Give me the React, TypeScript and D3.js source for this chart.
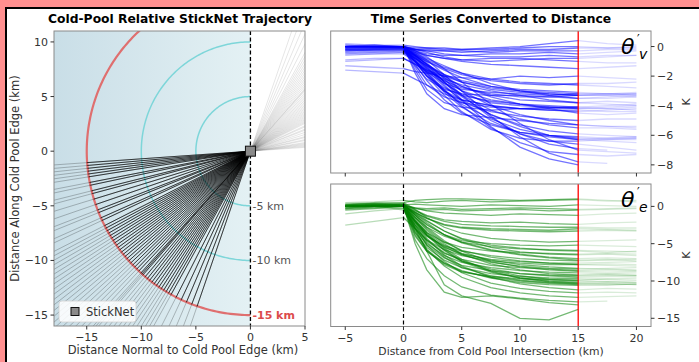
import React from 'react'
import * as d3 from 'd3'

// trajectory headings, degrees below the -x axis (direction of travel after the intersection)
const trackAngles = [4, 5, 6, 7, 8, 9, 11, 12, 14, 15, 17, 19, 21, 22, 24, 25, 27, 28, 29, 30, 31, 32, 33, 34, 35, 36, 37, 38, 39, 40, 41, 42, 43, 44, 45, 46, 47, 48, 48.5, 49, 50, 51, 52, 53, 54, 55, 56, 57, 58, 59, 60, 61, 63, 65, 67, 69, 71]

const ringRadii = [5, 10]
const leftXTicks = [-15, -10, -5, 0, 5]
const leftYTicks = [-15, -10, -5, 0, 5, 10]

// distance (km) at which the series below are sampled
const distKm = [-5, -2.5, 0, 1, 2, 3.5, 5, 7.5, 10, 12.5, 15, 17.5, 20]

const thetaV: (number | null)[][] = [
  [0.1, 0.1, 0, -0.1, -0.1, -0.2, -0.2, -0.1, 0, 0.2, 0.4, 0.2, 0.1],
  [0, 0, -0.1, -0.2, -0.3, -0.3, -0.4, -0.3, -0.2, -0.2, -0.1, -0.1, 0],
  [-0.2, -0.1, -0.1, -0.3, -0.5, -0.6, -0.6, -0.5, -0.5, -0.4, -0.5, -0.4, -0.3],
  [0, 0.1, 0, -0.2, -0.4, -0.7, -0.9, -1, -0.9, -0.8, -0.8, -0.7, -0.6],
  [-0.3, -0.2, -0.2, -0.4, -0.6, -0.8, -1.0, -1.2, -1.3, -1.4, -1.5, -1.4, -1.3],
  [-1.3, -1.4, -1.5, -1.7, -1.8, -2.0, -2.1, -2.2, -2.0, -2.1, -2.0, -2.1, -2.2],
  [0, 0, -0.1, -0.5, -0.9, -1.4, -1.8, -2.2, -2.4, -2.5, -2.6, -2.7, -2.8],
  [-0.2, -0.3, -0.3, -0.8, -1.3, -1.9, -2.3, -2.7, -2.9, -3.0, -3.1, -3.2, -3.2],
  [0, 0, 0, -0.6, -1.2, -1.9, -2.4, -2.9, -3.1, -3.2, -3.3, -3.3, -3.4],
  [-0.5, -0.4, -0.4, -1.0, -1.6, -2.3, -2.8, -3.2, -3.4, -3.4, -3.5, -3.4, -3.3],
  [0.1, 0, 0, -0.9, -1.7, -2.5, -2.9, -3.1, -3.2, -3.3, -3.2, -3.2, -3.1],
  [-1.0, -0.9, -0.8, -1.2, -1.7, -2.2, -2.6, -3.0, -3.3, -3.6, -3.8, -3.9, -4.0],
  [0, 0, 0, -1.1, -2.0, -2.8, -3.3, -3.7, -3.9, -4.0, -4.1, -4.0, -3.9],
  [-0.3, -0.2, -0.2, -0.8, -1.5, -2.3, -3.0, -3.6, -3.9, -4.1, -4.2, -4.2, -4.3],
  [0, 0, 0, -1.4, -2.6, -3.4, -3.8, -4.1, -4.2, -4.3, -4.3, -4.4, -4.4],
  [-0.1, -0.1, -0.1, -0.6, -1.2, -2.0, -2.7, -3.4, -3.9, -4.2, -4.5, -4.6, -4.5],
  [-1.6, -1.7, -1.8, -2.2, -2.6, -3.2, -3.6, -4.0, -4.2, -4.3, -4.4, -4.3, -4.2],
  [0, 0, 0, -1.6, -2.9, -3.8, -4.1, -4.3, -4.2, -4.1, -4.2, -4.1, -4.0],
  [-0.2, -0.2, -0.1, -0.7, -1.4, -2.4, -3.3, -4.3, -4.9, -5.3, -5.5, -5.5, -5.6],
  [0, 0, 0, -0.8, -1.6, -2.7, -3.6, -4.6, -5.3, -5.7, -5.9, -6.0, -6.1],
  [-0.4, -0.4, -0.3, -1.0, -1.8, -3.0, -3.9, -4.9, -5.6, -6.0, -6.2, -6.3, -6.2],
  [0, 0.1, 0, -0.6, -1.3, -2.4, -3.4, -4.6, -5.4, -6.0, -6.3, -6.4, -6.5],
  [-0.1, 0, 0, -1.2, -2.3, -3.6, -4.5, -5.3, -5.8, -6.1, -6.3, -6.2, -6.1],
  [-0.3, -0.2, -0.2, -0.7, -1.4, -2.6, -3.7, -5.0, -5.9, -6.4, -6.6, -6.8, -7.0],
  [0, 0, 0, -0.5, -1.1, -2.2, -3.3, -4.8, -5.9, -6.6, -6.9, -7.0, null],
  [-0.6, -0.5, -0.5, -1.0, -1.7, -2.9, -4.0, -5.5, -6.5, -7.1, -7.3, -7.4, -7.3],
  [0, 0, 0, -0.4, -0.9, -1.9, -3.0, -4.7, -6.1, -7.2, -7.8, -7.9, null],
  [-0.2, -0.1, -0.1, -0.6, -1.2, -2.4, -3.6, -5.4, -6.8, -7.6, -8.0, null, null],
  [0.2, 0.1, 0.1, 0, -0.1, -0.1, -0.2, -0.2, -0.1, 0, 0, -0.1, -0.1],
  [-0.1, -0.1, 0, -0.2, -0.3, -0.5, -0.6, -0.7, -0.7, -0.6, -0.7, -0.6, -0.6],
  [0, 0, 0, -0.3, -0.6, -0.8, -0.9, -0.8, -0.8, -0.9, -1.0, -1.1, -1.1],
  [-0.2, -0.2, -0.2, -1.0, -2.0, -3.3, -4.4, -5.6, -6.2, -6.4, -6.4, -6.3, -6.3],
  [0, 0, 0, -1.8, -3.2, -4.2, -4.6, -4.8, -5.0, -5.2, -5.3, -5.4, -5.4],
  [-0.9, -0.8, -0.8, -1.2, -1.6, -2.0, -2.4, -2.8, -3.0, -3.1, -3.2, -3.2, -3.3],
  [0, -0.1, -0.1, -0.5, -1.0, -1.6, -2.1, -2.7, -3.0, -3.2, -3.3, -3.2, -3.2],
  [-0.4, -0.3, -0.3, -0.6, -1.0, -1.5, -1.9, -2.3, -2.5, -2.6, -2.5, -2.5, -2.4],
  [0.1, 0, 0, -0.2, -0.2, -0.3, -0.3, -0.4, -0.3, -0.3, -0.3, -0.2, -0.2],
  [-0.3, -0.3, -0.2, -1.3, -2.2, -2.9, -3.2, -3.3, -3.3, -3.4, -3.3, -3.3, -3.2],
  [0, 0, 0, -0.7, -1.5, -2.5, -3.2, -3.8, -4.0, -4.1, -4.1, -4.2, -4.1],
  [-0.1, -0.1, 0, -0.9, -1.8, -3.0, -3.8, -4.4, -4.7, -4.9, -5.0, -4.9, -4.9],
  [0, 0, 0, -0.6, -1.2, -2.1, -3.0, -4.0, -4.6, -5.0, -5.3, -5.4, -5.5],
  [-0.2, -0.2, -0.1, -1.0, -1.9, -3.1, -4.1, -5.2, -5.8, -6.0, -6.1, -6.2, -6.2],
  [0, 0, 0, -0.3, -0.7, -1.5, -2.4, -3.9, -5.2, -6.3, -7.0, -7.1, -7.2],
  [-0.5, -0.5, -0.4, -0.8, -1.3, -2.1, -2.7, -3.3, -3.6, -3.7, -3.8, -3.7, -3.8],
  [0, 0.1, 0, -1.0, -2.0, -3.0, -3.6, -4.0, -4.2, -4.2, -4.1, null, null],
  [-0.1, 0, 0, -0.4, -0.8, -1.3, -1.8, -2.5, -3.0, -3.3, -3.5, -3.5, -3.4],
]

const thetaE: (number | null)[][] = [
  [0.3, 0.5, 0.5, 0.8, 0.9, 1.0, 1.0, 0.9, 0.8, 0.9, 1.0, 0.8, 0.6],
  [0, 0.2, 0.2, 0.3, 0.2, 0.1, 0.0, 0.2, 0.1, 0.0, 0.2, 0.1, 0],
  [-0.2, 0, 0, -0.3, -0.5, -0.4, -0.6, -0.5, -0.4, -0.6, -0.5, -0.4, -0.3],
  [0.1, 0.3, 0.2, -0.2, -0.6, -0.9, -1.0, -1.2, -1.0, -1.1, -1.2, -1.0, -0.9],
  [0, 0.1, 0.3, -0.5, -1.2, -1.8, -2.0, -2.2, -2.1, -2.3, -2.4, -2.2, -2.1],
  [-0.5, -0.3, 0, -0.8, -1.6, -2.4, -2.8, -3.0, -3.1, -3.2, -3.0, -3.1, -3.2],
  [0.2, 0.4, 0.5, -0.4, -1.5, -2.8, -3.6, -4.3, -4.6, -4.8, -4.7, -4.6, -4.5],
  [0, 0, 0, -1.5, -2.8, -4.0, -4.8, -5.4, -5.7, -5.8, -5.9, -6.0, -6.1],
  [-0.3, -0.2, 0.1, -2.0, -3.5, -4.8, -5.5, -6.0, -6.2, -6.3, -6.4, -6.3, -6.4],
  [0.1, 0.2, 0.3, -1.2, -2.5, -3.8, -4.8, -5.8, -6.4, -6.8, -7.0, -6.9, -7.0],
  [0, 0, -0.3, -2.5, -4.0, -5.3, -6.0, -6.6, -7.0, -7.2, -7.3, -7.2, -7.1],
  [-2.5, -2.0, -1.5, -3.0, -4.5, -5.8, -6.6, -7.3, -7.6, -7.8, -7.8, -7.9, -8.0],
  [0.2, 0.3, 0.2, -2.0, -3.8, -5.4, -6.5, -7.5, -8.0, -8.3, -8.4, -8.3, -8.2],
  [0, 0.1, 0, -3.0, -5.0, -6.6, -7.5, -8.2, -8.6, -8.8, -8.9, -9.0, -8.9],
  [-0.4, -0.2, 0, -1.5, -3.2, -5.0, -6.4, -7.7, -8.5, -9.0, -9.2, -9.1, -9.2],
  [0.1, 0.2, 0.1, -2.5, -4.5, -6.2, -7.3, -8.4, -9.0, -9.3, -9.5, -9.4, -9.3],
  [0, 0, 0, -3.5, -5.5, -7.2, -8.2, -9.0, -9.4, -9.6, -9.7, -9.8, -9.9],
  [-1.0, -0.6, -0.3, -2.0, -3.8, -5.8, -7.3, -8.6, -9.3, -9.8, -10.0, -10.1, -10.2],
  [0.3, 0.4, 0.3, -1.8, -3.6, -5.6, -7.1, -8.7, -9.6, -10.1, -10.3, -10.4, -10.5],
  [0, 0.1, 0, -4.0, -6.0, -7.6, -8.6, -9.6, -10.2, -10.5, -10.6, -10.5, -10.4],
  [-0.2, 0, 0.2, -2.2, -4.3, -6.5, -8.0, -9.5, -10.4, -10.9, -11.2, -11.0, -11.1],
  [0, 0, 0, -2.8, -5.2, -7.4, -8.9, -10.3, -11.0, -11.4, -11.6, -11.5, -11.6],
  [0.1, 0.2, 0.1, -3.2, -5.8, -8.0, -9.5, -10.9, -11.6, -12.0, -12.2, -12.1, -12.0],
  [0, 0, 0, -4.5, -7.0, -9.3, -10.8, -11.9, -12.3, -12.6, -12.8, -12.7, null],
  [-0.3, -0.1, 0, -5.0, -8.5, -11.5, -12.2, -12.0, -12.4, -12.9, -13.2, null, null],
  [0, 0.1, -0.5, -3.0, -6.0, -10.5, -12.0, -13.0, -15.0, -15.2, -13.8, null, null],
  [0.5, 0.6, 0.8, 0.6, 0.5, 0.7, 0.8, 0.6, 0.7, 0.8, 0.9, 0.7, 0.8],
  [0, 0.1, 0, -1.0, -2.2, -3.8, -4.9, -5.9, -6.5, -6.9, -7.2, -7.1, -7.3],
  [-0.1, 0, 0.1, -2.8, -4.6, -6.3, -7.1, -7.9, -8.2, -8.4, -8.6, -8.5, -8.6],
  [0.2, 0.3, 0.2, -1.0, -2.0, -3.3, -4.3, -5.2, -5.6, -5.9, -6.0, -6.2, -6.0],
  [0, 0, 0, -0.8, -1.6, -2.5, -2.9, -3.2, -3.3, -3.4, -3.3, -3.2, -3.3],
  [-0.5, -0.3, -0.2, -3.8, -6.0, -7.8, -8.8, -9.4, -9.7, -9.8, -9.9, -9.7, -9.6],
  [0.1, 0.2, 0.3, -1.2, -2.8, -4.6, -6.0, -7.4, -8.1, -8.5, -8.7, -8.8, -8.7],
  [0, 0, 0, -2.2, -3.9, -5.5, -6.4, -7.1, -7.4, -7.6, -7.6, -7.5, -7.4],
  [0, 0.2, 0.1, -0.2, -0.3, -0.2, -0.4, -0.3, -0.2, -0.3, -0.4, -0.3, -0.2],
  [0.2, 0.4, 0.4, -1.5, -3.0, -4.8, -5.9, -6.8, -7.3, -7.6, -7.8, -7.7, -7.8],
  [0, 0, 0, -3.0, -5.2, -6.9, -7.9, -8.6, -9.0, -9.2, -9.3, -9.2, -9.3],
  [-0.2, 0, 0.1, -2.5, -4.8, -6.8, -8.2, -9.3, -9.9, -10.2, -10.4, -10.3, -10.5],
  [0.1, 0.2, 0.2, -1.8, -3.5, -5.2, -6.3, -7.2, -7.8, -8.1, -8.3, -8.4, -8.5],
  [0, 0.1, 0, -0.6, -1.3, -2.0, -2.4, -2.6, -2.7, -2.8, -2.8, -2.9, -2.9],
  [-0.3, -0.1, 0, -3.5, -5.8, -7.6, -8.7, -9.5, -10.0, -10.3, -10.5, -10.6, -10.4],
  [0.3, 0.4, 0.3, -0.8, -1.9, -3.3, -4.4, -5.5, -6.1, -6.4, -6.5, -6.4, -6.6],
  [0, 0, 0, -2.0, -3.9, -5.9, -7.4, -8.8, -9.6, -10.0, -10.2, -10.1, -10.2],
  [-0.1, 0, 0.1, -1.2, -2.4, -3.8, -4.6, -5.0, -5.2, -5.3, -5.2, -5.3, -5.4],
]

const distTicks = [-5, 0, 5, 10, 15, 20]
const vTicks = [0, -2, -4, -6, -8]
const eTicks = [0, -5, -10, -15]

const FONT = 'DejaVu Sans, sans-serif'
const SPINE = '#8a8a8a'
const TXT = '#333'

// left panel scales
const lx = d3.scaleLinear().domain([-18, 5]).range([54, 305])
const ly = d3.scaleLinear().domain([-16, 11]).range([326, 31])
// right panels
const rx = d3.scaleLinear().domain([-6.25, 21.25]).range([330.7, 651])
const ryV = d3.scaleLinear().domain([-8.55, 1.05]).range([173, 31])
const ryE = d3.scaleLinear().domain([-16.1, 3.0]).range([326.5, 184])

const fmt = (v: number) => d3.format('d')(v)

function ring(r: number, a0: number, a1: number) {
  const pts = d3.range(a0, a1 + 0.001, 1).map(a => [r * Math.cos((a * Math.PI) / 180), r * Math.sin((a * Math.PI) / 180)])
  return d3.line<number[]>().x(d => lx(d[0])).y(d => ly(d[1]))(pts) || ''
}

function LeftPanel() {
  const [x0, x1] = lx.range()
  const [y1, y0] = ly.range()
  const far = 40
  return (
    <g>
      <defs>
        <linearGradient id="bg" gradientUnits="userSpaceOnUse" x1={lx(-18)} x2={lx(0)} y1={0} y2={0}>
          <stop offset="0" stopColor="#c9dee7" />
          <stop offset="1" stopColor="#e4f1f4" />
        </linearGradient>
        <clipPath id="clipL">
          <rect x={x0} y={y0} width={x1 - x0} height={y1 - y0} />
        </clipPath>
      </defs>
      <rect x={x0} y={y0} width={lx(0) - x0} height={y1 - y0} fill="url(#bg)" />
      <g clipPath="url(#clipL)">
        {ringRadii.map(r => (
          <path key={r} d={ring(r, 90, 270)} fill="none" stroke="#7ed6d9" strokeWidth={1.5} />
        ))}
        <path d={ring(15, 90, 270)} fill="none" stroke="#df6f6f" strokeWidth={2.2} />
        {trackAngles.map((a, i) => {
          const c = Math.cos((a * Math.PI) / 180)
          const s = Math.sin((a * Math.PI) / 180)
          return (
            <g key={i}>
              <line x1={lx(0)} y1={ly(0)} x2={lx(far * c)} y2={ly(far * s)} stroke="#000" strokeOpacity={0.13} strokeWidth={0.8} />
              <line x1={lx(0)} y1={ly(0)} x2={lx(-far * c)} y2={ly(-far * s)} stroke="#000" strokeOpacity={0.3} strokeWidth={0.8} />
              <line x1={lx(0)} y1={ly(0)} x2={lx(-15 * c)} y2={ly(-15 * s)} stroke="#000" strokeOpacity={0.85} strokeWidth={0.8} />
            </g>
          )
        })}
      </g>
      <line x1={lx(0)} x2={lx(0)} y1={y0} y2={y1} stroke="#000" strokeWidth={1.3} strokeDasharray="4,2.5" />
      {ringRadii.map(r => (
        <text key={r} x={lx(0) + 2} y={ly(-r) + 4} fontSize={11} fill="#555" fontFamily={FONT}>
          {`-${r} km`}
        </text>
      ))}
      <text x={lx(0) + 2} y={ly(-15) + 4} fontSize={11} fill="#dc4b4b" fontWeight="bold" fontFamily={FONT}>
        -15 km
      </text>
      <rect x={lx(0) - 5} y={ly(0) - 5} width={10} height={10} fill="#8a8a8a" stroke="#111" strokeWidth={1} />
      {/* legend */}
      <rect x={59} y={301} width={77} height={21} rx={3} fill="#fff" fillOpacity={0.85} stroke="#d0d0d0" strokeWidth={0.8} />
      <rect x={71} y={307.5} width={8} height={8} fill="#8a8a8a" stroke="#111" strokeWidth={1} />
      <text x={86} y={316} fontSize={11.5} fill={TXT} fontFamily={FONT}>StickNet</text>
      <rect x={x0} y={y0} width={x1 - x0} height={y1 - y0} fill="none" stroke={SPINE} strokeWidth={1} />
      {leftXTicks.map(t => (
        <g key={t}>
          <line x1={lx(t)} x2={lx(t)} y1={y1} y2={y1 + 3.5} stroke={TXT} />
          <text x={lx(t)} y={y1 + 15} textAnchor="middle" fontSize={11} fill={TXT} fontFamily={FONT}>{fmt(t)}</text>
        </g>
      ))}
      {leftYTicks.map(t => (
        <g key={t}>
          <line x1={x0 - 3.5} x2={x0} y1={ly(t)} y2={ly(t)} stroke={TXT} />
          <text x={x0 - 6} y={ly(t) + 4} textAnchor="end" fontSize={11} fill={TXT} fontFamily={FONT}>{fmt(t)}</text>
        </g>
      ))}
      <text x={183} y={354} textAnchor="middle" fontSize={11.5} fill={TXT} fontFamily={FONT}>
        Distance Normal to Cold Pool Edge (km)
      </text>
      <text transform={`translate(19,${(y0 + y1) / 2}) rotate(-90)`} textAnchor="middle" fontSize={11.5} fill={TXT} fontFamily={FONT}>
        Distance Along Cold Pool Edge (km)
      </text>
      <text x={180} y={23} textAnchor="middle" fontSize={12.3} fontWeight="bold" fill="#000" fontFamily={FONT}>
        Cold-Pool Relative StickNet Trajectory
      </text>
    </g>
  )
}

type Pt = [number, number | null]

function SeriesPanel({ id, series, ys, ticks, color, sub, showX }: {
  id: string; series: (number | null)[][]; ys: d3.ScaleLinear<number, number>; ticks: number[]; color: string; sub: string; showX: boolean
}) {
  const [x0, x1] = rx.range()
  const [y1, y0] = ys.range()
  const line = d3.line<Pt>().defined(d => d[1] != null).x(d => rx(d[0])).y(d => ys(d[1] as number))
  const part = (row: (number | null)[], lo: number, hi: number) =>
    line(distKm.map((x, i) => [x, row[i]] as Pt).filter(d => d[0] >= lo && d[0] <= hi)) || ''
  return (
    <g>
      <defs>
        <clipPath id={id}>
          <rect x={x0} y={y0} width={x1 - x0} height={y1 - y0} />
        </clipPath>
      </defs>
      <g clipPath={`url(#${id})`} fill="none" stroke={color} strokeWidth={1.3}>
        {series.map((row, i) => (
          <g key={i}>
            <path d={part(row, -5, 0)} strokeOpacity={0.28} />
            <path d={part(row, 15, 20)} strokeOpacity={0.15} />
          </g>
        ))}
        {series.map((row, i) => (
          <path key={i} d={part(row, 0, 15)} strokeOpacity={0.55} />
        ))}
      </g>
      <line x1={rx(0)} x2={rx(0)} y1={y0} y2={y1} stroke="#000" strokeWidth={1.2} strokeDasharray="4,2.5" />
      <line x1={rx(15)} x2={rx(15)} y1={y0} y2={y1} stroke="#ff0000" strokeWidth={1.3} />
      <rect x={x0} y={y0} width={x1 - x0} height={y1 - y0} fill="none" stroke={SPINE} strokeWidth={1} />
      {distTicks.map(t => (
        <g key={t}>
          <line x1={rx(t)} x2={rx(t)} y1={y1} y2={y1 + 3.5} stroke={TXT} />
          {showX && (
            <text x={rx(t)} y={y1 + 15} textAnchor="middle" fontSize={11} fill={TXT} fontFamily={FONT}>{fmt(t)}</text>
          )}
        </g>
      ))}
      {ticks.map(t => (
        <g key={t}>
          <line x1={x1} x2={x1 + 3.5} y1={ys(t)} y2={ys(t)} stroke={TXT} />
          <text x={x1 + 6} y={ys(t) + 4} fontSize={11} fill={TXT} fontFamily={FONT}>{fmt(t)}</text>
        </g>
      ))}
      <text transform={`translate(690,${(y0 + y1) / 2}) rotate(-90)`} textAnchor="middle" fontSize={11} fill={TXT} fontFamily={FONT}>K</text>
      <text x={621} y={y0 + 23} fontSize={22} fontStyle="italic" fill="#000" fontFamily={FONT}>θ</text>
      <text x={637} y={y0 + 12} fontSize={12} fill="#000" fontFamily={FONT}>′</text>
      <text x={639} y={y0 + 28} fontSize={14} fontStyle="italic" fill="#000" fontFamily={FONT}>{sub}</text>
    </g>
  )
}

export default function App() {
  return (
    <div style={{ position: 'absolute', left: 0, top: 0 }}>
      <svg width={699} height={362} style={{ display: 'block' }}>
        <rect width={699} height={362} fill="#ff8f8f" />
        <rect x={5} y={7} width={694} height={355} fill="#000" />
        <rect x={7} y={9} width={692} height={353} fill="#fff" />
        <LeftPanel />
        <SeriesPanel id="cv" series={thetaV} ys={ryV} ticks={vTicks} color="#0000ff" sub="v" showX={false} />
        <SeriesPanel id="ce" series={thetaE} ys={ryE} ticks={eTicks} color="#008000" sub="e" showX={true} />
        <text x={491} y={23} textAnchor="middle" fontSize={12.3} fontWeight="bold" fill="#000" fontFamily={FONT}>
          Time Series Converted to Distance
        </text>
        <text x={491} y={355} textAnchor="middle" fontSize={10.8} fill={TXT} fontFamily={FONT}>
          Distance from Cold Pool Intersection (km)
        </text>
      </svg>
    </div>
  )
}
